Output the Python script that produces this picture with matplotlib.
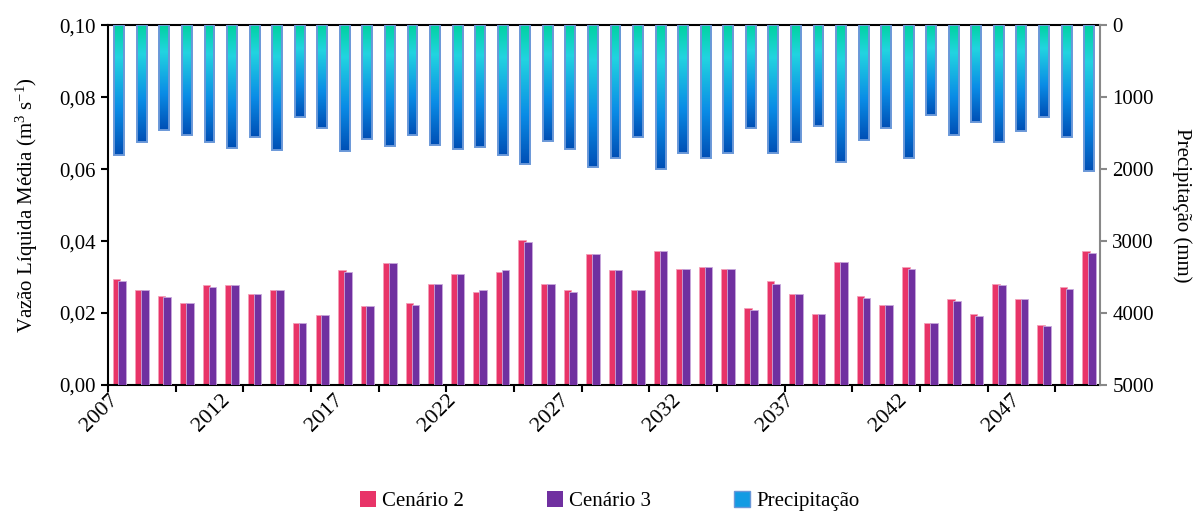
import matplotlib
matplotlib.use('Agg')
import matplotlib.pyplot as plt
import numpy as np
from matplotlib.colors import LinearSegmentedColormap
from matplotlib.patches import Patch

plt.rcParams['font.family'] = ['Liberation Serif', 'DejaVu Serif']
plt.rcParams['mathtext.fontset'] = 'custom'
plt.rcParams['mathtext.rm'] = 'Liberation Serif'
plt.rcParams['mathtext.it'] = 'Liberation Serif:italic'

# dados
anos = list(range(2007, 2051))
cenario2 = [0.0294, 0.0263, 0.0248, 0.0228, 0.0278, 0.0278, 0.0253, 0.0263, 0.0173, 0.0194,
            0.0319, 0.0219, 0.0338, 0.0228, 0.0282, 0.0308, 0.0258, 0.0313, 0.0403, 0.0282,
            0.0263, 0.0363, 0.0319, 0.0263, 0.0373, 0.0323, 0.0328, 0.0323, 0.0213, 0.0288,
            0.0253, 0.0198, 0.0343, 0.0248, 0.0223, 0.0328, 0.0173, 0.0238, 0.0198, 0.0282,
            0.0238, 0.0168, 0.0272, 0.0373]
cenario3 = [0.0288, 0.0263, 0.0244, 0.0228, 0.0272, 0.0278, 0.0253, 0.0263, 0.0173, 0.0194,
            0.0313, 0.0219, 0.0338, 0.0223, 0.0282, 0.0308, 0.0263, 0.0319, 0.0397, 0.0282,
            0.0258, 0.0363, 0.0319, 0.0263, 0.0373, 0.0323, 0.0328, 0.0323, 0.0208, 0.0282,
            0.0253, 0.0198, 0.0343, 0.0243, 0.0223, 0.0322, 0.0173, 0.0233, 0.0193, 0.0278,
            0.0238, 0.0163, 0.0268, 0.0368]
precipitacao = [1806, 1629, 1454, 1528, 1629, 1704, 1556, 1731, 1278, 1435,
                1750, 1579, 1681, 1528, 1667, 1727, 1699, 1806, 1931, 1606,
                1727, 1977, 1852, 1556, 2005, 1773, 1852, 1773, 1431, 1773,
                1625, 1403, 1898, 1602, 1431, 1852, 1250, 1528, 1352, 1625,
                1477, 1278, 1556, 2023]

x = np.arange(len(anos))
rosa = '#E83468'
roxo = '#7030A0'
grad = LinearSegmentedColormap.from_list('prec', [(0.0, '#00D2A0'), (0.25, '#22D4E0'),
                                                  (0.65, '#0A8CE6'), (1.0, '#004FB5')])

fig = plt.figure(figsize=(12, 5.12), dpi=100)
ax = fig.add_axes([0.09, 0.248, 0.827, 0.703])

ax.bar(x - 0.13, cenario2, width=0.34, color=rosa, edgecolor='#F4A0B8', linewidth=0.6, zorder=2)
ax.bar(x + 0.13, cenario3, width=0.34, color=roxo, edgecolor='#C8A8DC', linewidth=0.6, zorder=3)

ax.set_xlim(-0.5, len(anos) - 0.5)
ax.set_ylim(0, 0.10)
ax.set_yticks(np.arange(0, 0.101, 0.02))
ax.set_yticklabels([('%.2f' % v).replace('.', ',') for v in np.arange(0, 0.101, 0.02)])
ax.set_xticks(x[::5] + 0.1)
ax.set_xticklabels([str(a) for a in anos[::5]], rotation=45, ha='right')
ax.set_xticks(np.arange(-0.5, len(anos), 3), minor=True)
ax.tick_params(axis='x', which='major', length=0, labelsize=16, pad=4)
ax.tick_params(axis='x', which='minor', length=5, width=1.5, direction='out')
ax.tick_params(axis='y', length=5, width=1.5, direction='out', labelsize=15)
for s in ['left', 'bottom', 'top']:
    ax.spines[s].set_linewidth(1.5)
    ax.spines[s].set_color('black')
ax.spines['right'].set_visible(False)
ax.set_ylabel('Vazão Líquida Média (m$^3$ s$^{-1}$)', fontsize=15, labelpad=14)

ax2 = ax.twinx()
w = 0.44
gimg = np.linspace(0, 1, 256).reshape(-1, 1)
for xi, p in zip(x, precipitacao):
    ax2.imshow(gimg, cmap=grad, extent=(xi - w / 2, xi + w / 2, p, 0), origin='upper',
               aspect='auto', zorder=2, interpolation='bilinear')
ax2.bar(x, precipitacao, width=w, fill=False, edgecolor='#6A98D8', linewidth=1.4, zorder=3)
ax2.set_xlim(-0.5, len(anos) - 0.5)
ax2.set_ylim(5000, 0)
ax2.set_yticks(np.arange(0, 5001, 1000))
ax2.tick_params(axis='y', length=5, width=1.5, direction='out', color='#888888', labelsize=15)
ax2.spines['right'].set_color('#888888')
ax2.spines['right'].set_linewidth(1.5)
for s in ['left', 'bottom', 'top']:
    ax2.spines[s].set_visible(False)
ax2.set_ylabel('Precipitação (mm)', fontsize=15, rotation=-90, labelpad=27)

handles = [Patch(facecolor=rosa), Patch(facecolor=roxo),
           Patch(facecolor='#139BE3', edgecolor='#6A98D8', linewidth=1)]
fig.legend(handles, ['Cenário 2', 'Cenário 3', 'Precipitação'], loc='lower center',
           bbox_to_anchor=(0.508, -0.035), ncol=3, frameon=False, fontsize=15,
           handlelength=0.75, handleheight=0.75, handletextpad=0.3, columnspacing=4.0)

fig.savefig('out.png', dpi=100)
